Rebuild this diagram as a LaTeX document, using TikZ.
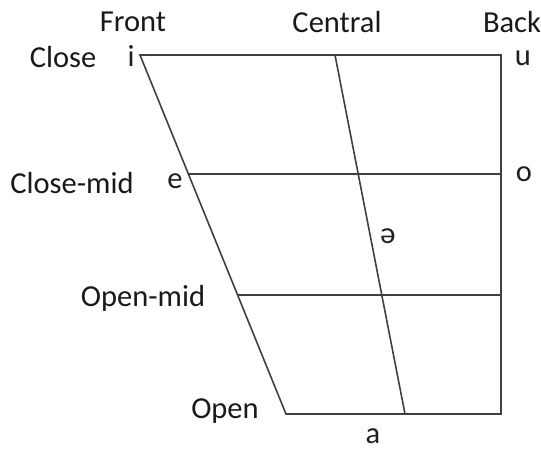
\documentclass[tikz,border=0pt]{standalone}
\usepackage{fontspec}
\setmainfont{Carlito}
\usetikzlibrary{calc}
\begin{document}
\begin{tikzpicture}[x=1pt,y=-1pt,
  chart/.style={draw=black!75, line width=1.6pt, line join=miter},
  lbl/.style={inner sep=0pt, text=black!90, font=\fontsize{30.5}{33}\selectfont},
  vowel/.style={inner sep=0pt, text=black!88, font=\fontsize{30.5}{33}\selectfont}]
  \useasboundingbox (0,0) rectangle (541,448);
  % quadrilateral corners
  \coordinate (TL) at (140,55);
  \coordinate (TR) at (501,55);
  \coordinate (BR) at (501,414);
  \coordinate (BL) at (286,414);
  \coordinate (CT) at (335,55);
  \coordinate (CB) at (405,414);
  \coordinate (CML) at ($(TL)!0.3315!(BL)$);
  \coordinate (CMR) at (501,174);
  \coordinate (OML) at ($(TL)!0.6685!(BL)$);
  \coordinate (OMR) at (501,295);
  % outline and grid lines
  \draw[chart] (TL) -- (TR) -- (BR) -- (BL) -- cycle;
  \draw[chart] (CML) -- (CMR);
  \draw[chart] (OML) -- (OMR);
  \draw[chart] (CT) -- (CB);
  % backness labels
  \node[lbl] (front) at (133,22) {Front};
  \node[lbl] (central) at (337,22) {Central};
  \node[lbl] (back) at (512,22) {Back};
  % height labels
  \node[lbl] (close) at (63,57) {Close};
  \node[lbl] (closemid) at (72,183) {Close-mid};
  \node[lbl] (openmid) at (143,298) {Open-mid};
  \node[lbl] (open) at (225,411) {Open};
  % vowels
  \node[vowel] (vi) at (131,56) {i};
  \node[vowel] (vu) at (523,58) {u};
  \node[vowel] (ve) at (175,181) {e};
  \node[vowel] (vo) at (524,174) {o};
  \node[vowel] (vschwa) at (388,236) {ə};
  \node[vowel] (va) at (373,436) {a};
\end{tikzpicture}
\end{document}
